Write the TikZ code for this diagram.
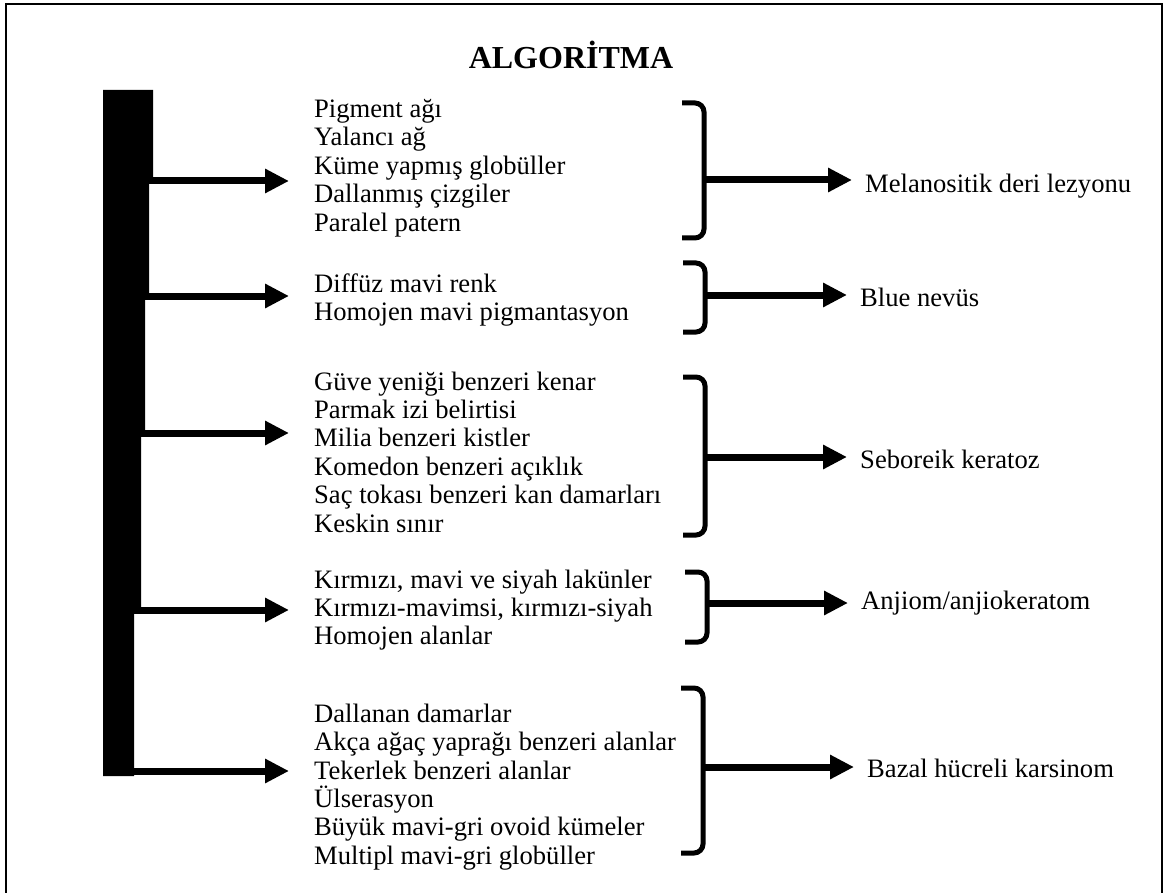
\documentclass[tikz,border=0pt]{standalone}
\usepackage{fontspec}
\setmainfont{Liberation Serif}
\usetikzlibrary{arrows.meta,positioning}
\tikzset{item/.style={anchor=west,inner sep=0pt,align=left,font=\fontsize{26.6}{28.4}\selectfont}}
\tikzset{result/.style={anchor=west,inner sep=0pt,font=\fontsize{26.6}{28.4}\selectfont}}

\begin{document}
\begin{tikzpicture}[x=1pt,y=-1pt]
\tikzset{fat/.style={line width=7pt,-{Triangle[length=24pt,width=23pt]}},
  brak/.style={line width=5pt,rounded corners=9pt}}
\useasboundingbox (0,0) rectangle (1164,893);
\draw[line width=2pt] (6,893) -- (6,4) -- (1162,4) -- (1162,893);
\node[font=\bfseries\fontsize{32}{36}\selectfont] (title) at (571,55) {ALGORİTMA};
% stepped bar
\fill (103,90) -- (153,90) -- (153,181) -- (149,181) -- (149,296) -- (145,296) -- (145,433)
  -- (141,433) -- (141,610) -- (134,610) -- (134,776) -- (103,776) -- cycle;
% findings
\node[item] (p1) at (314,168) {Pigment ağı\\Yalancı ağ\\Küme yapmış globüller\\Dallanmış çizgiler\\Paralel patern};
\node[item] (p2) at (314,300) {Diffüz mavi renk\\Homojen mavi pigmantasyon};
\node[item] (p3) at (314,452) {Güve yeniği benzeri kenar\\Parmak izi belirtisi\\Milia benzeri kistler\\Komedon benzeri açıklık\\Saç tokası benzeri kan damarları\\Keskin sınır};
\node[item] (p4) at (314,610) {Kırmızı, mavi ve siyah lakünler\\Kırmızı-mavimsi, kırmızı-siyah\\Homojen alanlar};
\node[item] (p5) at (314,787) {Dallanan damarlar\\Akça ağaç yaprağı benzeri alanlar\\Tekerlek benzeri alanlar\\Ülserasyon\\Büyük mavi-gri ovoid kümeler\\Multipl mavi-gri globüller};
% diagnoses
\node[result] (l1) at (865,186) {Melanositik deri lezyonu};
\node[result] (l2) at (860,297) {Blue nevüs};
\node[result] (l3) at (860,459) {Seboreik keratoz};
\node[result] (l4) at (861,603) {Anjiom/anjiokeratom};
\node[result] (l5) at (867,768) {Bazal hücreli karsinom};
\foreach \i/\y in {1/181,2/296,3/433,4/610,5/771} {
  \coordinate (a\i) at (130,\y);
  \draw[fat,shorten >=25pt] (a\i) -- (a\i -| p\i.west);
}
\foreach \i/\t/\b/\x/\m in {1/103/238/704/180,2/263/332/705/295,3/377/535/705/457,4/572/642/707/603,5/688/853/703/767} {
  \draw[brak] (\x-22,\t) -- (\x,\t) -- (\x,\b) -- (\x-22,\b);
  \coordinate (m\i) at (\x,\m);
  \draw[fat,shorten >=13pt] (m\i) -- (m\i -| l\i.west);
}
\end{tikzpicture}
\end{document}
